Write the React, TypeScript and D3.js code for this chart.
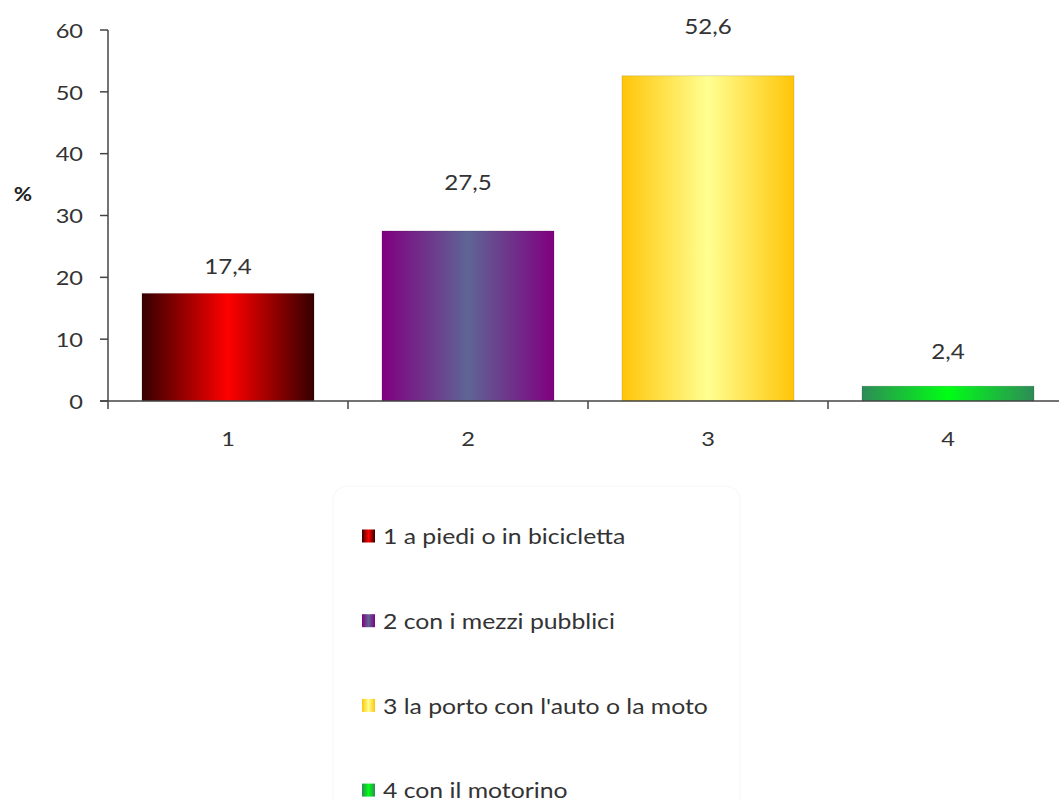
import React from "react";
import * as d3 from "d3";

const categories = ["1", "2", "3", "4"];
const values = [17.4, 27.5, 52.6, 2.4];
const valueLabels = ["17,4", "27,5", "52,6", "2,4"];
const legendLabels = [
  "1 a piedi o in bicicletta",
  "2 con i mezzi pubblici",
  "3 la porto con l'auto o la moto",
  "4 con il motorino",
];
const yTicks = [0, 10, 20, 30, 40, 50, 60];

// gradient stops: [edge, center]
const gradients = [
  ["#350000", "#ff0000"],
  ["#800080", "#5e6595"],
  ["#ffc508", "#ffff92"],
  ["#2e8b57", "#00ff14"],
];
// vertical gap between bar top and label centre, as placed in the original
const labelGaps = [27, 49, 50, 35];

const W = 1059;
const H = 800;
const FONT = "Lato, 'Open Sans', sans-serif";
const SX = 1.18;

function T(props: {
  x: number;
  y: number;
  anchor?: string;
  size: number;
  weight?: string;
  fill?: string;
  children: React.ReactNode;
}) {
  const { x, y, anchor = "start", size, weight = "normal", fill = "#333", children } = props;
  return (
    <text
      transform={`translate(${x},${y}) scale(${SX},1)`}
      textAnchor={anchor}
      dominantBaseline="central"
      fontFamily={FONT}
      fontSize={size}
      fontWeight={weight}
      fill={fill}
    >
      {children}
    </text>
  );
}

export default function App() {
  const left = 108;
  const top = 30;
  const bottom = 401;
  const x = d3
    .scaleBand<string>()
    .domain(categories)
    .range([left, left + 240 * 4])
    .paddingInner(0.283)
    .paddingOuter(0.1415);
  const y = d3.scaleLinear().domain([0, 60]).range([bottom, top]);
  const band = x.step();

  return (
    <svg width={W} height={H} style={{ position: "absolute", left: 0, top: 0, background: "#fff" }}>
      <defs>
        {gradients.map((g, i) => (
          <linearGradient key={i} id={`g${i}`} x1="0" x2="1" y1="0" y2="0">
            <stop offset="0" stopColor={g[0]} />
            <stop offset="0.5" stopColor={g[1]} />
            <stop offset="1" stopColor={g[0]} />
          </linearGradient>
        ))}
      </defs>

      {/* legend box (very faint) */}
      <rect x={333} y={486} width={407} height={330} rx={14} fill="#fff" stroke="#f6f6f6" strokeWidth={1} />

      {/* bars */}
      {values.map((v, i) => (
        <rect
          key={i}
          x={x(categories[i])}
          y={y(v)}
          width={x.bandwidth()}
          height={bottom - y(v)}
          fill={`url(#g${i})`}
          stroke="#000"
          strokeOpacity={0.12}
          strokeWidth={1}
        />
      ))}

      {/* value labels */}
      {values.map((v, i) => (
        <T key={i} x={(x(categories[i]) as number) + x.bandwidth() / 2} y={y(v) - labelGaps[i]} anchor="middle" size={20.5}>
          {valueLabels[i]}
        </T>
      ))}

      {/* y axis */}
      <line x1={left} x2={left} y1={top} y2={bottom} stroke="#444" strokeWidth={1.5} />
      {yTicks.map((t) => (
        <g key={t}>
          <line x1={left - 8} x2={left} y1={y(t)} y2={y(t)} stroke="#444" strokeWidth={1.5} />
          <T x={83} y={y(t)} anchor="end" size={20}>
            {t}
          </T>
        </g>
      ))}
      <T x={23} y={193} anchor="middle" size={19} weight="bold" fill="#222">
        %
      </T>

      {/* x axis */}
      <line x1={left - 8} x2={W} y1={bottom} y2={bottom} stroke="#444" strokeWidth={1.5} />
      {categories.map((c, i) => (
        <line key={c} x1={left + band * i} x2={left + band * i} y1={bottom} y2={bottom + 8} stroke="#444" strokeWidth={1.5} />
      ))}
      {categories.map((c) => (
        <T key={c} x={(x(c) as number) + x.bandwidth() / 2} y={438} anchor="middle" size={20}>
          {c}
        </T>
      ))}

      {/* legend */}
      {legendLabels.map((l, i) => (
        <g key={i} transform={`translate(362, ${536 + i * 84.7})`}>
          <rect x={0} y={-6.5} width={13} height={13} fill={`url(#g${i})`} />
          <T x={21} y={0} size={21}>
            {l}
          </T>
        </g>
      ))}
    </svg>
  );
}
